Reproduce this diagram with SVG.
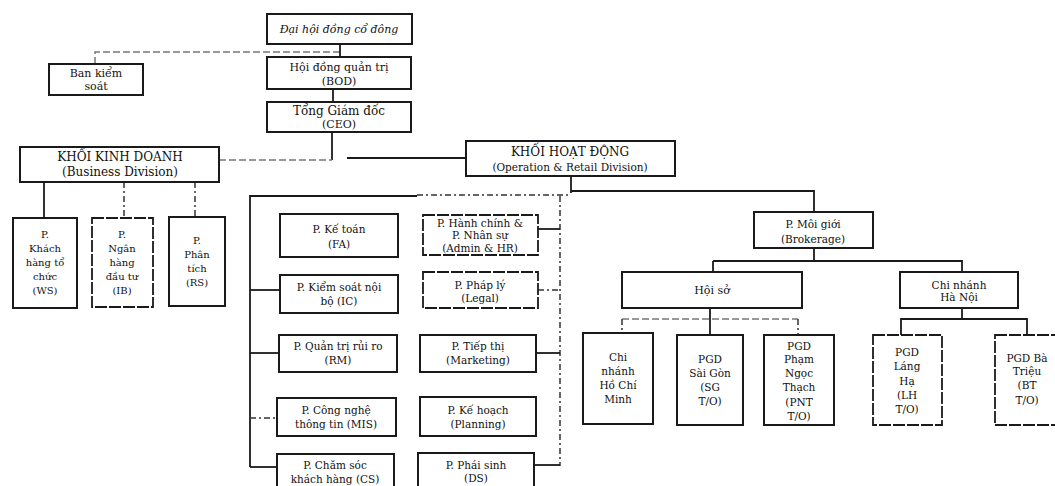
<svg xmlns="http://www.w3.org/2000/svg" width="1055" height="486" viewBox="0 0 1055 486">
<style>
.box{fill:#fff;stroke:#1a1a1a;stroke-width:2}
.dbox{fill:#fff;stroke:#1a1a1a;stroke-width:1.8;stroke-dasharray:12 2}
.ln{fill:none;stroke:#1a1a1a;stroke-width:1.8}
.dl{fill:none;stroke:#333;stroke-width:1.5;stroke-dasharray:6 3 2 3}
.gl{fill:none;stroke:#777;stroke-width:1.5;stroke-dasharray:7 3}
text{font-family:"DejaVu Serif","Liberation Serif",serif;font-size:10.5px;fill:#111;text-anchor:middle}
.t{font-size:11px}
.h{font-size:12px}
.s{font-size:10px}
</style>
<rect width="1055" height="486" fill="#fff"/>
<g id="connectors">
<path class="gl" d="M95,64 V52 H340"/>
<path class="ln" d="M340,44 V57"/>
<path class="ln" d="M333,89 V102"/>
<path class="ln" d="M332,132 V160"/>
<path class="gl" d="M219,160 H332"/>
<path class="ln" d="M347,158 H466"/>
<path class="ln" d="M44,182 V218"/>
<path class="dl" d="M124,182 V218"/>
<path class="dl" d="M195,182 V217"/>
<path class="ln" d="M571,176 V193"/>
<path class="ln" d="M250,467 V196 H417"/>
<path class="dl" d="M417,195 H571"/>
<path class="ln" d="M571,191 H814 V212"/>
<path class="dl" d="M560,196 V466"/>
<path class="ln" d="M250,290 H280"/>
<path class="ln" d="M250,353 H279"/>
<path class="dl" d="M250,418 H277"/>
<path class="ln" d="M250,467 H277"/>
<path class="ln" d="M538,229 H560"/>
<path class="dl" d="M538,290 H560"/>
<path class="ln" d="M536,353 H560"/>
<path class="ln" d="M534,465 H560"/>
<path class="ln" d="M814,248 V261"/>
<path class="ln" d="M713,261 H962 V272"/>
<path class="ln" d="M713,261 V272"/>
<path class="ln" d="M710,308 V319"/>
<path class="gl" d="M622,319 H798"/>
<path class="dl" d="M622,319 V333"/>
<path class="ln" d="M710,319 V335"/>
<path class="dl" d="M798,319 V335"/>
<path class="ln" d="M962,308 V319"/>
<path class="ln" d="M901,335 V319 H1027 V335"/>
</g>
<g id="dhdcd"><rect class="box" x="267" y="14" width="145" height="30"/><text class="t" x="339" y="33" font-style="italic">Đại hội đồng cổ đông</text></g>
<g id="bks"><rect class="box" x="49" y="64" width="94" height="31"/><text class="t" x="96" y="77">Ban kiểm</text><text class="t" x="96" y="90">soát</text></g>
<g id="hdqt"><rect class="box" x="267" y="57" width="144" height="32"/><text class="t" x="339" y="71">Hội đồng quản trị</text><text class="t" x="339" y="85">(BOD)</text></g>
<g id="tgd"><rect class="box" x="267" y="102" width="144" height="30"/><text class="h" x="339" y="115">Tổng Giám đốc</text><text class="t" x="339" y="128">(CEO)</text></g>
<g id="kkd"><rect class="box" x="20" y="147" width="199" height="35"/><text class="h" x="120" y="161">KHỐI KINH DOANH</text><text class="h" x="120" y="176">(Business Division)</text></g>
<g id="khd"><rect class="box" x="466" y="141" width="209" height="35"/><text class="h" x="570" y="156">KHỐI HOẠT ĐỘNG</text><text x="570" y="171">(Operation &amp; Retail Division)</text></g>
<g id="ws"><rect class="box" x="13" y="218" width="64" height="90"/><text class="s" x="45" y="238">P.</text><text class="s" x="45" y="252">Khách</text><text class="s" x="45" y="266">hàng tổ</text><text class="s" x="45" y="280">chức</text><text class="s" x="45" y="294">(WS)</text></g>
<g id="ib"><rect class="dbox" x="92" y="218" width="61" height="89"/><text class="s" x="122" y="238">P.</text><text class="s" x="122" y="252">Ngân</text><text class="s" x="122" y="266">hàng</text><text class="s" x="122" y="280">đầu tư</text><text class="s" x="122" y="294">(IB)</text></g>
<g id="rs"><rect class="box" x="169" y="217" width="56" height="89"/><text class="s" x="197" y="244">P.</text><text class="s" x="197" y="258">Phân</text><text class="s" x="197" y="272">tích</text><text class="s" x="197" y="286">(RS)</text></g>
<g id="fa"><rect class="box" x="280" y="214" width="118" height="43"/><text x="339" y="233">P. Kế toán</text><text x="339" y="248">(FA)</text></g>
<g id="ic"><rect class="box" x="280" y="275" width="118" height="38"/><text x="339" y="291">P. Kiểm soát nội</text><text x="339" y="305">bộ (IC)</text></g>
<g id="rm"><rect class="box" x="279" y="335" width="118" height="37"/><text x="338" y="350">P. Quản trị rủi ro</text><text x="338" y="364">(RM)</text></g>
<g id="mis"><rect class="box" x="277" y="398" width="119" height="38"/><text x="336" y="414">P. Công nghệ</text><text x="336" y="428">thông tin (MIS)</text></g>
<g id="cs"><rect class="box" x="277" y="454" width="117" height="36"/><text x="335" y="469">P. Chăm sóc</text><text x="335" y="483">khách hàng (CS)</text></g>
<g id="hr"><rect class="dbox" x="423" y="215" width="115" height="40"/><text x="480" y="227">P. Hành chính &amp;</text><text x="480" y="239">P. Nhân sự</text><text x="480" y="252">(Admin &amp; HR)</text></g>
<g id="legal"><rect class="dbox" x="423" y="272" width="115" height="36"/><text x="480" y="289">P. Pháp lý</text><text x="480" y="302">(Legal)</text></g>
<g id="mkt"><rect class="box" x="420" y="335" width="116" height="37"/><text x="478" y="350">P. Tiếp thị</text><text x="478" y="364">(Marketing)</text></g>
<g id="plan"><rect class="box" x="420" y="397" width="116" height="39"/><text x="478" y="414">P. Kế hoạch</text><text x="478" y="428">(Planning)</text></g>
<g id="ds"><rect class="box" x="418" y="453" width="116" height="37"/><text x="476" y="469">P. Phái sinh</text><text x="476" y="482">(DS)</text></g>
<g id="brk"><rect class="box" x="754" y="212" width="119" height="36"/><text x="813" y="228">P. Môi giới</text><text x="813" y="243">(Brokerage)</text></g>
<g id="hoiso"><rect class="box" x="622" y="272" width="180" height="36"/><text class="t" x="712" y="294">Hội sở</text></g>
<g id="cnhn"><rect class="box" x="900" y="272" width="118" height="36"/><text x="959" y="289">Chi nhánh</text><text x="959" y="301">Hà Nội</text></g>
<g id="cnhcm"><rect class="box" x="583" y="333" width="70" height="91"/><text x="618" y="361">Chi</text><text x="618" y="375">nhánh</text><text x="618" y="389">Hồ Chí</text><text x="618" y="403">Minh</text></g>
<g id="sg"><rect class="box" x="677" y="335" width="66" height="90"/><text x="710" y="363">PGD</text><text x="710" y="377">Sài Gòn</text><text x="710" y="391">(SG</text><text x="710" y="405">T/O)</text></g>
<g id="pnt"><rect class="box" x="764" y="335" width="70" height="90"/><text x="799" y="350">PGD</text><text x="799" y="363">Phạm</text><text x="799" y="377">Ngọc</text><text x="799" y="391">Thạch</text><text x="799" y="406">(PNT</text><text x="799" y="420">T/O)</text></g>
<g id="lh"><rect class="dbox" x="873" y="335" width="69" height="90"/><text x="907" y="356">PGD</text><text x="907" y="370">Láng</text><text x="907" y="385">Hạ</text><text x="907" y="399">(LH</text><text x="907" y="413">T/O)</text></g>
<g id="bt"><rect class="dbox" x="995" y="335" width="66" height="90"/><text x="1027" y="362">PGD Bà</text><text x="1027" y="375">Triệu</text><text x="1027" y="389">(BT</text><text x="1027" y="404">T/O)</text></g>
</svg>
